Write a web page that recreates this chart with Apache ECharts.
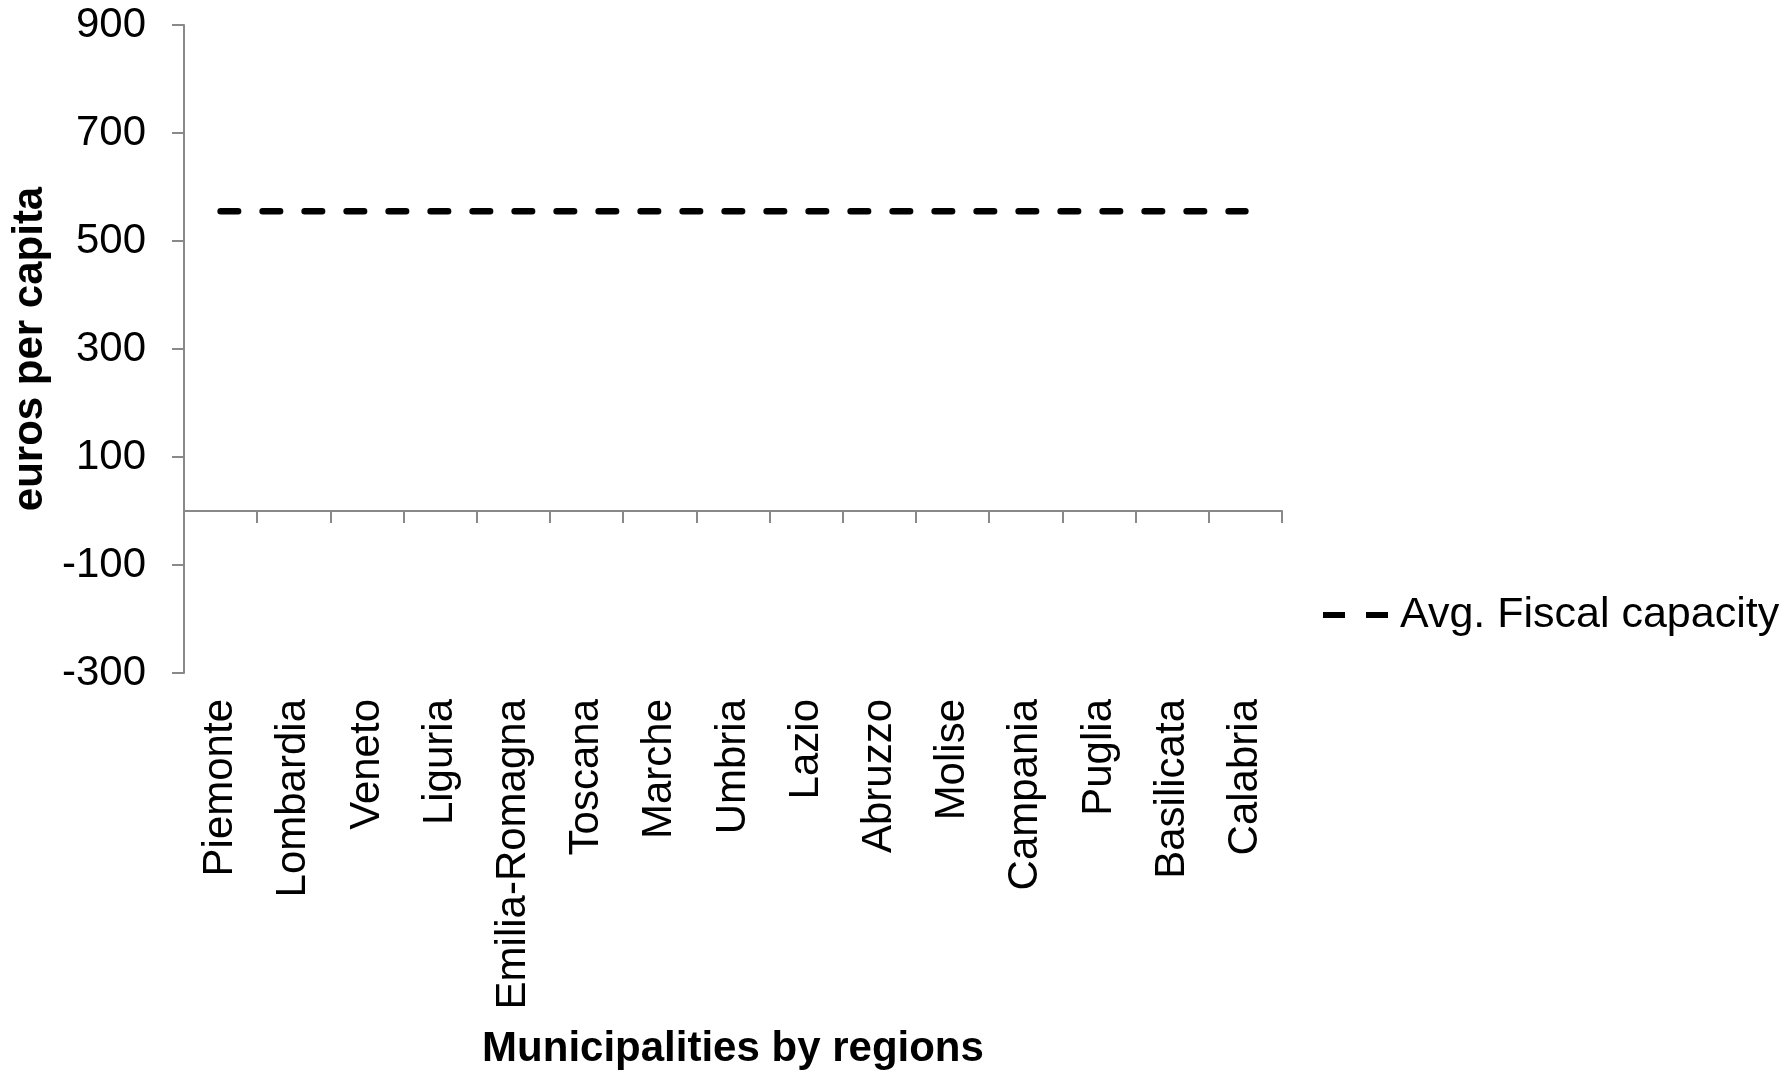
<!DOCTYPE html>
<html>
<head>
<meta charset="utf-8">
<title>Avg. Fiscal capacity by region</title>
<script src="https://cdn.jsdelivr.net/npm/echarts@6.0.0/dist/echarts.min.js"></script>
<style>
  html, body { margin: 0; padding: 0; background: #ffffff; }
  #chart { width: 1791px; height: 1074px; }
</style>
</head>
<body>
<div id="chart"></div>
<script>
// Regions (municipalities grouped by region)
const regions = [
  'Piemonte', 'Lombardia', 'Veneto', 'Liguria', 'Emilia-Romagna',
  'Toscana', 'Marche', 'Umbria', 'Lazio', 'Abruzzo',
  'Molise', 'Campania', 'Puglia', 'Basilicata', 'Calabria'
];

// Average fiscal capacity, euros per capita
const avgFiscalCapacity = [
  555, 555, 555, 555, 555,
  555, 555, 555, 555, 555,
  555, 555, 555, 555, 555
];

// Value axis range and step
const yMin = -300;
const yMax = 900;
const yStep = 200;

const FONT = "'Liberation Sans', Arial, Helvetica, sans-serif";
const AXIS_GREY = '#898989';

const chart = echarts.init(document.getElementById('chart'), null, { renderer: 'canvas' });

chart.setOption({
  animation: false,
  backgroundColor: '#ffffff',
  textStyle: { fontFamily: FONT },
  grid: {
    left: 184,
    right: 509,
    top: 25,
    bottom: 401,
    containLabel: false,
    outerBoundsMode: 'none'
  },
  legend: {
    orient: 'vertical',
    left: 1318,
    top: 586,
    itemWidth: 65,
    itemHeight: 6,
    // two-dash key for the dashed average line
    data: [{
      name: 'Avg. Fiscal capacity',
      icon: 'path://M0,0 H22 V6 H0 Z M43,0 H65 V6 H43 Z',
      itemStyle: { color: '#000000' }
    }],
    textStyle: {
      fontFamily: FONT,
      fontSize: 43,
      color: '#000000',
      lineHeight: 48,
      padding: [0, 0, 0, 7]
    }
  },
  xAxis: [
    {
      // axis line crossing at zero, with boundary ticks
      type: 'category',
      data: regions,
      boundaryGap: true,
      axisLine: { show: true, onZero: true, lineStyle: { color: AXIS_GREY, width: 2 } },
      axisTick: { show: true, inside: false, length: 12, interval: 0, alignWithLabel: false, lineStyle: { color: AXIS_GREY, width: 2 } },
      axisLabel: { show: false },
      splitLine: { show: false }
    },
    {
      // category labels along the bottom of the plot
      type: 'category',
      data: regions,
      position: 'bottom',
      boundaryGap: true,
      axisLine: { show: false, onZero: false },
      axisTick: { show: false },
      axisLabel: {
        show: true,
        rotate: 90,
        interval: 0,
        margin: 26,
        fontFamily: FONT,
        fontSize: 42,
        color: '#000000'
      },
      splitLine: { show: false },
      name: 'Municipalities by regions',
      nameLocation: 'middle',
      nameGap: 355,
      nameTextStyle: {
        fontFamily: FONT,
        fontSize: 42,
        fontWeight: 'bold',
        color: '#000000'
      }
    }
  ],
  yAxis: {
    type: 'value',
    min: yMin,
    max: yMax,
    interval: yStep,
    axisLine: { show: true, onZero: false, lineStyle: { color: AXIS_GREY, width: 2 } },
    axisTick: { show: true, inside: false, length: 12, lineStyle: { color: AXIS_GREY, width: 2 } },
    axisLabel: {
      margin: 38,
      fontFamily: FONT,
      fontSize: 42,
      color: '#000000'
    },
    splitLine: { show: false },
    name: 'euros per capita',
    nameLocation: 'middle',
    nameGap: 133,
    nameRotate: 90,
    nameTextStyle: {
      fontFamily: FONT,
      fontSize: 42,
      fontWeight: 'bold',
      color: '#000000'
    }
  },
  series: [
    {
      name: 'Avg. Fiscal capacity',
      type: 'line',
      xAxisIndex: 0,
      yAxisIndex: 0,
      data: avgFiscalCapacity,
      symbol: 'none',
      showSymbol: false,
      lineStyle: { color: '#000000', width: 6.5, type: [17.5, 24.5], cap: 'round' },
      itemStyle: { color: '#000000' },
      emphasis: { disabled: true }
    }
  ]
});
</script>
</body>
</html>
